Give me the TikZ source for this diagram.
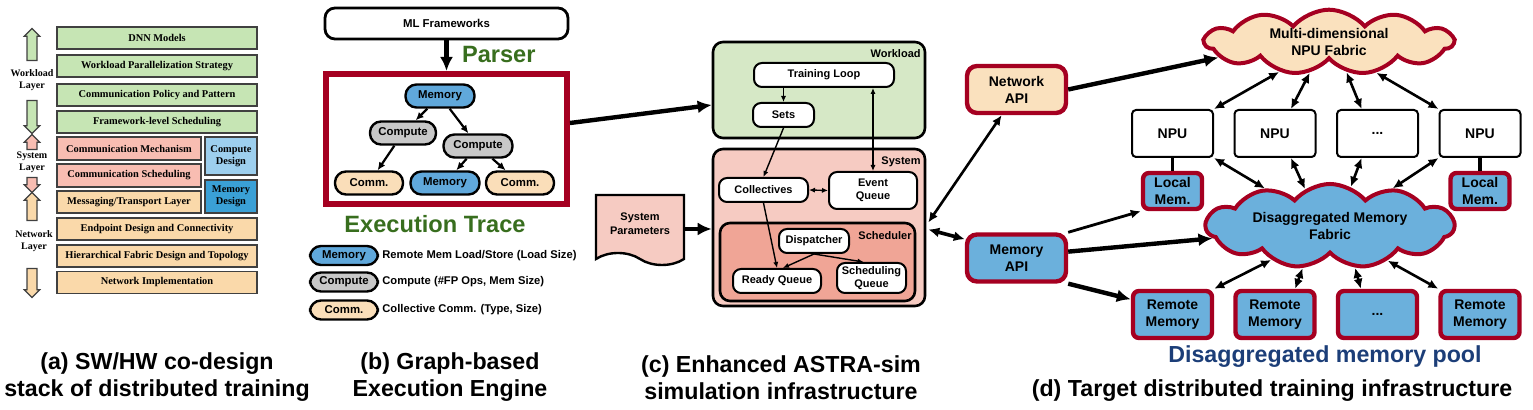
\documentclass[tikz,border=0pt]{standalone}
\usepackage{fontspec}
\setmainfont{Liberation Sans}
\newfontfamily\layerfont{Liberation Serif}
\usetikzlibrary{arrows.meta}
\usetikzlibrary{calc}
\usetikzlibrary{shapes.arrows}
\usetikzlibrary{shapes.symbols}

\definecolor{lgreen}{RGB}{198,229,180}
\definecolor{lpink}{RGB}{248,189,178}
\definecolor{lorange}{RGB}{250,217,170}
\definecolor{cdblue}{RGB}{157,207,238}
\definecolor{mdblue}{RGB}{58,160,214}
\definecolor{gblue}{RGB}{96,168,219}
\definecolor{ggray}{RGB}{200,200,200}
\definecolor{gcomm}{RGB}{250,222,185}
\definecolor{dred}{RGB}{165,0,33}
\definecolor{tgreen}{RGB}{56,110,30}
\definecolor{wgreen}{RGB}{214,232,198}
\definecolor{spink}{RGB}{246,203,194}
\definecolor{schpink}{RGB}{240,165,150}
\definecolor{apiorange}{RGB}{250,225,190}
\definecolor{mblue}{RGB}{107,176,220}
\definecolor{navy}{RGB}{28,62,120}

\tikzset{
    layer/.style={draw=black!75, line width=0.7pt, inner sep=0pt, minimum height=11pt,
        font=\layerfont\bfseries\fontsize{5.2}{6}\selectfont, align=center},
    layerlabel/.style={font=\layerfont\bfseries\fontsize{5}{6}\selectfont, align=center},
    blockarrow/.style={single arrow, draw=black!75, line width=0.6pt, inner sep=2.2pt,
        single arrow head extend=1.4pt, single arrow head indent=0pt},
    fw/.style={draw, line width=1.4pt, rounded corners=5pt, fill=white, inner sep=0pt,
        minimum width=121.5pt, minimum height=15.5pt, font=\bfseries\fontsize{5.7}{6.5}\selectfont},
    tracebox/.style={draw=dred, line width=3pt, minimum width=120.5pt, minimum height=65pt, inner sep=0pt},
    gnode/.style={draw, line width=1.2pt, rounded corners=5.5pt, inner sep=0pt,
        minimum height=11.5pt, font=\bfseries\fontsize{5.7}{6.5}\selectfont},
    lgnode/.style={gnode, minimum width=34pt, minimum height=9.5pt},
    legtext/.style={anchor=west, inner sep=0pt, font=\bfseries\fontsize{5.6}{6.5}\selectfont},
    bigtitle/.style={text=tgreen, font=\bfseries\fontsize{11.8}{13}\selectfont},
    simbox/.style={draw, line width=1.3pt, rounded corners=5pt, inner sep=0pt},
    cnode/.style={draw, line width=1pt, rounded corners=4pt, fill=white, inner sep=0pt,
        minimum height=12pt, align=center, font=\bfseries\fontsize{5.5}{6.5}\selectfont},
    boxlabel/.style={anchor=east, inner sep=0pt, font=\bfseries\fontsize{5.5}{6.5}\selectfont},
    apibox/.style={draw=dred, line width=2.2pt, rounded corners=5pt, inner sep=0pt,
        minimum width=49.5pt, minimum height=23.5pt, align=center, font=\bfseries\fontsize{7}{8.5}\selectfont},
    npu/.style={draw, line width=1pt, rounded corners=2pt, fill=white, inner sep=0pt,
        minimum width=40.5pt, minimum height=23.5pt, font=\bfseries\fontsize{7}{8.5}\selectfont},
    memsq/.style={draw=dred, line width=2.2pt, rounded corners=3pt, fill=mblue, inner sep=0pt,
        align=center, font=\bfseries\fontsize{7}{8.5}\selectfont},
    fabric/.style={cloud, cloud puffs=11, cloud puff arc=100, aspect=3.8, draw=dred, line width=2pt,
        inner sep=0pt, minimum width=124pt, minimum height=30pt, align=center,
        font=\bfseries\fontsize{7}{8.5}\selectfont},
    caption/.style={align=center, font=\bfseries\fontsize{11.6}{13.5}\selectfont},
    bigarr/.style={line width=2.2pt, -{Latex[length=7pt,width=6.5pt]}},
    garr/.style={line width=1.1pt, -{Latex[length=4pt,width=3.6pt]}},
    carr/.style={line width=0.7pt, -{Latex[length=3pt,width=2.6pt]}},
    carrb/.style={line width=0.7pt, {Latex[length=3pt,width=2.6pt]}-{Latex[length=3pt,width=2.6pt]}},
    darr/.style={line width=1.3pt, {Latex[length=5pt,width=4.5pt]}-{Latex[length=5pt,width=4.5pt]}},
    bigdarr/.style={line width=1.8pt, {Latex[length=5.5pt,width=5pt]}-{Latex[length=5.5pt,width=5pt]}},
    marr/.style={line width=1.4pt, -{Latex[length=5pt,width=4.5pt]}}
}

\begin{document}
\begin{tikzpicture}[x=0.5pt,y=-0.5pt]
    \useasboundingbox (0,0) rectangle (1533,410);

    % (a) co-design stack
    \node[layer, fill=lgreen, minimum width=100pt] (dnn) at (157,38) {DNN Models};
    \node[layer, fill=lgreen, minimum width=100pt] (wps) at (157,66) {Workload Parallelization Strategy};
    \node[layer, fill=lgreen, minimum width=100pt] (cpp) at (157,95) {Communication Policy and Pattern};
    \node[layer, fill=lgreen, minimum width=100pt] (fls) at (157,122) {Framework-level Scheduling};
    \node[layer, fill=lpink, minimum width=72pt, minimum height=11.5pt] (cmm) at (129,148.5) {Communication Mechanism};
    \node[layer, fill=lpink, minimum width=72pt, minimum height=11.5pt] (csc) at (129,175.5) {Communication Scheduling};
    \node[layer, fill=lorange, minimum width=72pt] (mtl) at (129,202) {Messaging/Transport Layer};
    \node[layer, fill=cdblue, minimum width=26pt, minimum height=19pt] (cdes) at (231,156) {Compute\\Design};
    \node[layer, fill=mdblue, minimum width=26pt, minimum height=16.5pt] (mdes) at (231,196.5) {Memory\\Design};
    \node[layer, fill=lorange, minimum width=100pt] (edc) at (157,229) {Endpoint Design and Connectivity};
    \node[layer, fill=lorange, minimum width=100pt] (hfd) at (157,256) {Hierarchical Fabric Design and Topology};
    \node[layer, fill=lorange, minimum width=100pt] (nim) at (157,282.5) {Network Implementation};

    \node[blockarrow, fill=lgreen, shape border rotate=90, minimum height=16pt] (wlup) at (32,47) {};
    \node[layerlabel] (wllbl) at (32,80) {Workload\\Layer};
    \node[blockarrow, fill=lgreen, shape border rotate=270, minimum height=16.5pt] (wldn) at (32,114.5) {};
    \node[blockarrow, fill=lpink, shape border rotate=90, minimum height=5.5pt] (syup) at (32,144.5) {};
    \node[layerlabel] (sylbl) at (32,162.5) {System\\Layer};
    \node[blockarrow, fill=lpink, shape border rotate=270, minimum height=6.5pt] (sydn) at (32,182.5) {};
    \node[blockarrow, fill=lorange, shape border rotate=90, minimum height=14pt] (nwup) at (32,209) {};
    \node[layerlabel] (nwlbl) at (34,241.5) {Network\\Layer};
    \node[blockarrow, fill=lorange, shape border rotate=270, minimum height=14.5pt] (nwdn) at (32,280.5) {};

    % (b) execution engine
    \node[fw] (mlfw) at (446.5,23.5) {ML Frameworks};
    \node[tracebox] (trace) at (446.5,139) {};
    \draw[bigarr] (mlfw) -- (trace);
    \node[bigtitle, anchor=west] (parser) at (455,55) {Parser};
    \node[gnode, fill=gblue, minimum width=34.5pt] (gm1) at (440,96) {Memory};
    \node[gnode, fill=ggray, minimum width=33pt] (gc1) at (403,133) {Compute};
    \node[gnode, fill=ggray, minimum width=34.5pt] (gc2) at (478,146) {Compute};
    \node[gnode, fill=gcomm, minimum width=34pt] (gx1) at (369,183) {Comm.};
    \node[gnode, fill=gblue, minimum width=34.5pt] (gm2) at (445,183) {Memory};
    \node[gnode, fill=gcomm, minimum width=34pt] (gx2) at (520,183) {Comm.};
    \draw[garr] (gm1) -- (gc1);
    \draw[garr] (gm1) -- (gc2);
    \draw[garr] (gc1) -- (gx1);
    \draw[garr] (gc2) -- (gm2);
    \draw[garr] (gc2) -- (gx2);
    \node[bigtitle] (extr) at (435,224) {Execution Trace};

    \node[lgnode, fill=gblue] (lgm) at (344,255.5) {Memory};
    \node[legtext] (lgmt) at (382,255.5) {Remote Mem Load/Store (Load Size)};
    \node[lgnode, fill=ggray] (lgc) at (344,282) {Compute};
    \node[legtext] (lgct) at (382,282) {Compute (\#FP Ops, Mem Size)};
    \node[lgnode, fill=gcomm] (lgx) at (344,310) {Comm.};
    \node[legtext] (lgxt) at (382,310) {Collective Comm. (Type, Size)};

    % (c) simulator
    \node[simbox, fill=wgreen, minimum width=106pt, minimum height=48pt] (wkl) at (819,90) {};
    \node[boxlabel] (wkllbl) at (921,54) {Workload};
    \node[cnode, minimum width=70pt] (tl) at (824,75) {Training Loop};
    \node[cnode, minimum width=30.5pt] (sets) at (783.5,115) {Sets};

    \node[simbox, fill=spink, minimum width=106pt, minimum height=78.5pt] (sysbox) at (819,227.5) {};
    \node[boxlabel] (syslbl) at (921,162) {System};
    \node[cnode, minimum width=44.5pt] (coll) at (763.5,190) {Collectives};
    \node[cnode, minimum width=44pt, minimum height=18.5pt] (evq) at (873,190.5) {Event\\Queue};
    \node[simbox, fill=schpink, minimum width=97.5pt, minimum height=39pt] (sched) at (817.5,262) {};
    \node[boxlabel] (schlbl) at (912,236) {Scheduler};
    \node[cnode, minimum width=35pt] (disp) at (814,241) {Dispatcher};
    \node[cnode, minimum width=44pt] (rq) at (777,281) {Ready Queue};
    \node[cnode, minimum width=34.5pt, minimum height=15pt] (sq) at (871.5,278) {Scheduling\\Queue};

    \draw[carr] (sets.north |- tl.south) -- (sets.north);
    \draw[carrb] (evq.north |- tl.south) -- (evq.north);
    \draw[carr] (sets.south) -- (coll.north);
    \draw[carrb] (coll.east) -- (evq.west);
    \draw[carr] (coll.south) -- (rq.north);
    \draw[carr] (disp.south) -- ($(rq.north)+(6,0)$);
    \draw[carr] (disp.south) -- ($(sq.north)+(-8,0)$);

    \node[tape, tape bend top=none, tape bend bottom=out and in, tape bend height=6pt, draw, line width=1.2pt,
        fill=spink, inner sep=0pt, minimum width=44pt, minimum height=35pt, align=center,
        font=\bfseries\fontsize{5.5}{6.8}\selectfont] (params) at (640,224) {System\\Parameters};
    \draw[bigarr] ($(params.east)+(0,5)$) -- ($(params.east -| sysbox.west)+(0,5)$);
    \draw[bigarr] ($(trace.east)+(0,-16)$) -- ($(wkl.west)+(0,15)$);

    % (d) target infrastructure
    \node[apibox, fill=apiorange] (napi) at (1016.5,89.5) {Network\\API};
    \node[apibox, fill=mblue] (mapi) at (1016.5,258) {Memory\\API};
    \node[fabric, fill=apiorange] (mfab) at (1329,42) {Multi-dimensional\\NPU Fabric};
    \node[fabric, fill=mblue] (dfab) at (1330,226) {Disaggregated Memory\\Fabric};
    \node[npu] (npu1) at (1172.5,133.5) {NPU};
    \node[npu] (npu2) at (1275,133.5) {NPU};
    \node[npu] (npu3) at (1377.5,133.5) {...};
    \node[npu] (npu4) at (1480,133.5) {NPU};
    \node[memsq, minimum width=29.5pt, minimum height=18pt] (lm1) at (1172.5,191) {Local\\Mem.};
    \node[memsq, minimum width=29.5pt, minimum height=18pt] (lm2) at (1480,191) {Local\\Mem.};
    \node[memsq, minimum width=39.5pt, minimum height=23.5pt] (rm1) at (1172.5,314.5) {Remote\\Memory};
    \node[memsq, minimum width=39.5pt, minimum height=23.5pt] (rm2) at (1275,314.5) {Remote\\Memory};
    \node[memsq, minimum width=39.5pt, minimum height=23.5pt] (rm3) at (1377.5,314.5) {...};
    \node[memsq, minimum width=39.5pt, minimum height=23.5pt] (rm4) at (1480,314.5) {Remote\\Memory};

    \draw[line width=1.6pt] (npu1) -- (lm1);
    \draw[line width=1.6pt] (npu4) -- (lm2);

    \draw[darr] (mfab.211) -- (npu1.north east);
    \draw[darr] (mfab.238) -- (npu2.57);
    \draw[darr] (mfab.300) -- (npu3.123);
    \draw[darr] (mfab.327) -- (npu4.north west);
    \draw[darr] (npu1.south east) -- (dfab.150);
    \draw[darr] (npu2.303) -- (dfab.124);
    \draw[darr] (npu3.237) -- (dfab.62);
    \draw[darr] (npu4.south west) -- (dfab.31);
    \draw[darr] (dfab.210) -- (rm1.north east);
    \draw[darr] (dfab.237) -- (rm2.52);
    \draw[darr] (dfab.301) -- (rm3.123);
    \draw[darr] (dfab.329) -- (rm4.north west);

    \draw[bigarr] (napi.east) -- (mfab.188);
    \draw[bigarr] (mapi.7) -- (dfab.186);
    \draw[marr] (mapi.north east) -- (lm1.south west);
    \draw[bigarr] (mapi.south east) -- (rm1.160);
    \draw[darr] (napi.240) -- ($(sysbox.east)+(2,-5)$);
    \draw[bigdarr] (mapi.160) -- ($(sysbox.east)+(2,2)$);

    \node[text=navy, font=\bfseries\fontsize{11.6}{13.5}\selectfont] (poollbl) at (1325,357) {Disaggregated memory pool};

    % captions
    \node[caption] (capa) at (157,377.5) {(a) SW/HW co-design\\stack of distributed training};
    \node[caption] (capb) at (450,377.5) {(b) Graph-based\\Execution Engine};
    \node[caption] (capc) at (781,377.5) {(c) Enhanced ASTRA-sim\\simulation infrastructure};
    \node[caption] (capd) at (1272,391) {(d) Target distributed training infrastructure};
\end{tikzpicture}
\end{document}
